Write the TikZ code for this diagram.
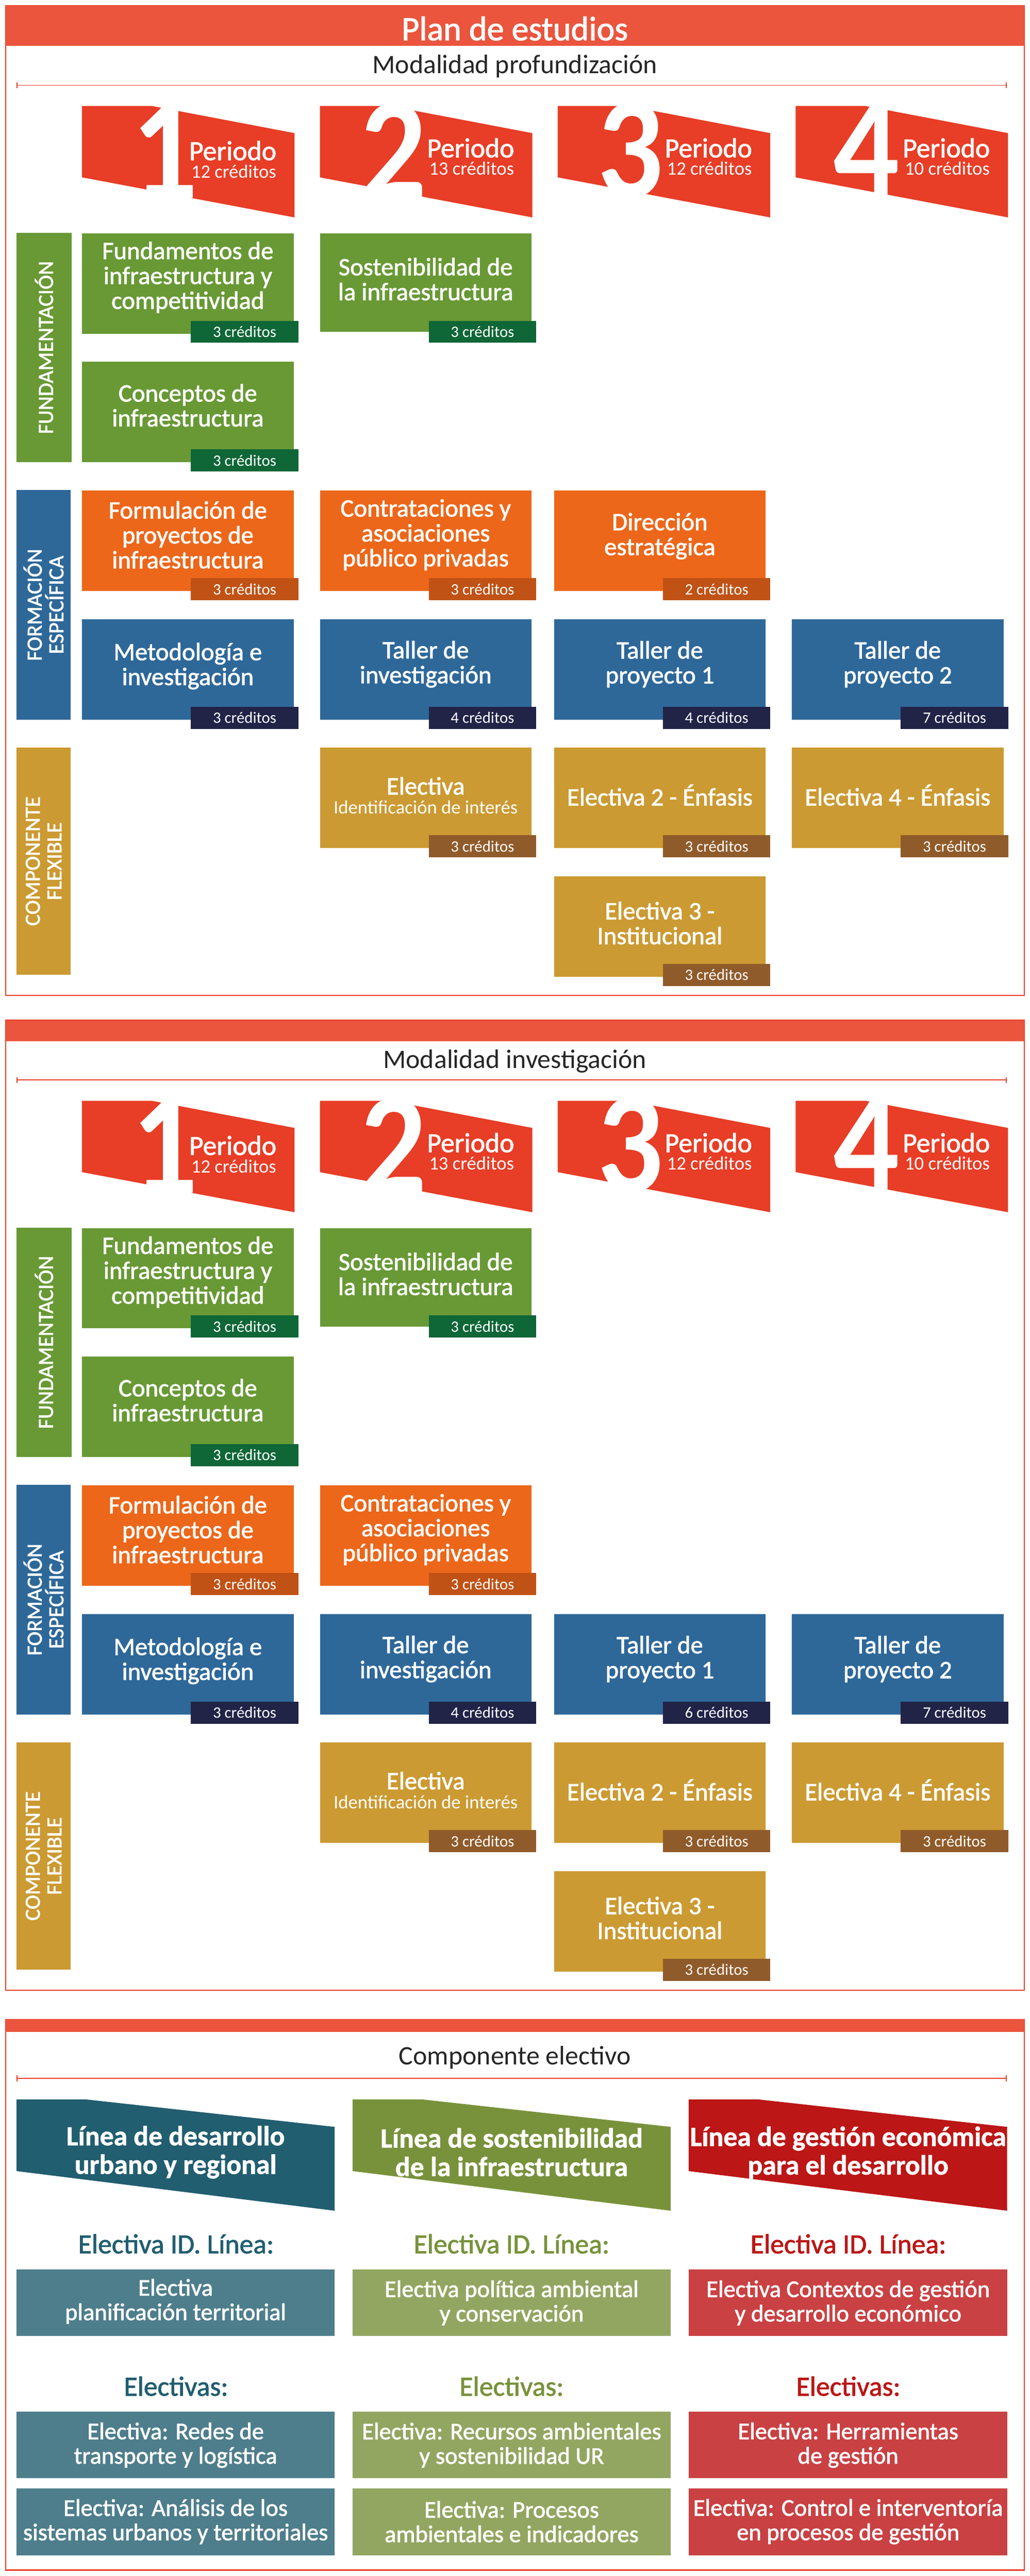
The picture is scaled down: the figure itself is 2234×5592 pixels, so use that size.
\documentclass[tikz,border=0pt]{standalone}
\usepackage{fontspec}
\setmainfont{Carlito}
\newfontfamily\medio[FakeBold=1.6]{Carlito}
\newfontfamily\negra[FakeBold=1.2]{Carlito Bold}
\newfontfamily\cifra[FakeStretch=0.9]{Carlito Bold}
\usetikzlibrary{arrows.meta}

\definecolor{rojo}{HTML}{E83D26}
\definecolor{franja}{HTML}{EB553D}
\definecolor{verde}{HTML}{689935}
\definecolor{verdeo}{HTML}{0F6637}
\definecolor{naranja}{HTML}{EC671A}
\definecolor{naranjao}{HTML}{C05215}
\definecolor{azul}{HTML}{2E6899}
\definecolor{azulo}{HTML}{212347}
\definecolor{oro}{HTML}{CB9A32}
\definecolor{oroo}{HTML}{905B2A}
\definecolor{teal}{HTML}{215E70}
\definecolor{tealc}{HTML}{4E7E8C}
\definecolor{oliva}{HTML}{78923B}
\definecolor{olivac}{HTML}{93A661}
\definecolor{vino}{HTML}{BC1616}
\definecolor{vinoc}{HTML}{C94143}

\tikzset{
  marco/.style={draw=rojo,line width=2.5pt,inner sep=0pt,minimum width=2210pt},
  cinta/.style={fill=franja,inner sep=0pt,minimum width=2210pt},
  subtitulo/.style={text=black!85,font=\fontsize{58}{62}\selectfont},
  regla/.style={draw=rojo,line width=2pt,{Bar[width=13pt,length=2pt]}-{Bar[width=13pt,length=2pt]}},
  bandera/.style={fill=rojo},
  digito/.style={text=white,anchor=base,inner ysep=0pt,inner xsep=-16pt,font=\cifra\fontsize{315}{315}\selectfont},
  periodo/.style={text=white,inner sep=0pt,font=\medio\fontsize{60}{60}\selectfont},
  creditos/.style={text=white,inner sep=0pt,font=\fontsize{41}{41}\selectfont},
  banda/.style={rotate=90,text=white,inner sep=0pt,align=center,font=\medio\fontsize{47}{47}\selectfont},
  ramo/.style={anchor=north west,inner sep=0pt,minimum width=459pt,minimum height=218pt},
  rtexto/.style={text=white,inner sep=0pt,align=center,font=\medio\fontsize{54.5}{54}\selectfont},
  sello/.style={anchor=north west,inner sep=0pt,minimum width=233pt,minimum height=48pt,text=white,font=\fontsize{34.5}{36}\selectfont},
  linea/.style={text=white,inner sep=0pt,align=center,font=\negra\fontsize{60}{62}\selectfont},
  subl/.style={inner sep=0pt,font=\medio\fontsize{60}{60}\selectfont},
  caja/.style={anchor=north west,inner sep=0pt,minimum height=144.5pt},
  ctexto/.style={text=white,inner sep=0pt,align=center,font=\medio\fontsize{52}{53}\selectfont}
}

\begin{document}
\begin{tikzpicture}[x=1pt,y=-1pt]

  \useasboundingbox (0,0) rectangle (2234,5592);

  % primer panel
  \node[marco,minimum height=2148.5pt] (marco1) at (1117,1086.25) {};
  \node[cinta,minimum height=88pt] (cinta1) at (1117,56) {};
  \node[inner sep=0pt,text=white,font=\medio\fontsize{74}{74}\selectfont] (plan) at (1117,62) {Plan de estudios};
  \node[subtitulo] (sub1) at (1117,144) {Modalidad profundización};
  \coordinate (r1a) at (36,185);
  \coordinate (r1b) at (2184,185);
  \draw[regla] (r1a) -- (r1b);

  \fill[bandera] (178,230) -- (329,230) -- (639,289) -- (639,472) -- (178,385) -- cycle;
  \fill[bandera] (694,230) -- (845,230) -- (1155,289) -- (1155,472) -- (694,385) -- cycle;
  \fill[bandera] (1210,230) -- (1361,230) -- (1671,289) -- (1671,472) -- (1210,385) -- cycle;
  \fill[bandera] (1726,230) -- (1877,230) -- (2187,289) -- (2187,472) -- (1726,385) -- cycle;
  \node[digito] (n1) at (358,430) {1};
  \node[digito] (n2) at (854,430) {2};
  \node[digito] (n3) at (1368,428) {3};
  \node[digito] (n4) at (1880,426) {4};
  \node[periodo] (p1) at (505,327) {Periodo};
  \node[periodo] (p2) at (1021,321) {Periodo};
  \node[periodo] (p3) at (1537,321) {Periodo};
  \node[periodo] (p4) at (2053,321) {Periodo};
  \node[creditos] (c1) at (507,372) {12 créditos};
  \node[creditos] (c2) at (1023,366) {13 créditos};
  \node[creditos] (c3) at (1539,366) {12 créditos};
  \node[creditos] (c4) at (2055,366) {10 créditos};

  \node[banda,fill=verde,minimum width=497pt,minimum height=119pt] (fund) at (95.5,754.5) {FUNDAMENTACIÓN};
  \node[banda,fill=azul,minimum width=498pt,minimum height=117pt] (form) at (94.5,1313) {FORMACIÓN\\ESPECÍFICA};
  \node[banda,fill=oro,minimum width=493pt,minimum height=117pt] (comp) at (94.5,1869.5) {COMPONENTE\\FLEXIBLE};

  \begin{scope}[every node/.append style={ramo}]
    \node[fill=verde] (a1) at (178,506) {};
    \node[fill=verde,minimum height=214pt] (b1) at (694,506) {};
    \node[fill=verde] (a2) at (178,785) {};
    \node[fill=naranja] (a3) at (178,1064.5) {};
    \node[fill=naranja] (b3) at (694,1064.5) {};
    \node[fill=naranja] (c3r) at (1202,1064.5) {};
    \node[fill=azul] (a4) at (178,1344) {};
    \node[fill=azul] (b4) at (694,1344) {};
    \node[fill=azul] (c4r) at (1202,1344) {};
    \node[fill=azul] (d4) at (1718,1344) {};
    \node[fill=oro] (b5) at (694,1623) {};
    \node[fill=oro] (c5) at (1202,1623) {};
    \node[fill=oro] (d5) at (1718,1623) {};
    \node[fill=oro] (c6) at (1202,1902) {};
  \end{scope}

  \begin{scope}[every node/.append style={rtexto}]
    \node (a1t) at (407.5,602) {Fundamentos de\\infraestructura y\\competitividad};
    \node (b1t) at (923.5,606) {Sostenibilidad de\\la infraestructura};
    \node (a2t) at (407.5,880) {Conceptos de\\infraestructura};
    \node (a3t) at (407.5,1161) {Formulación de\\proyectos de\\infraestructura};
    \node (b3t) at (923.5,1161) {Contrataciones y\\asociaciones\\público privadas};
    \node (c3t) at (1431.5,1164) {Dirección\\estratégica};
    \node (a4t) at (407.5,1446) {Metodología e\\investigación};
    \node (b4t) at (923.5,1442) {Taller de\\investigación};
    \node (c4t) at (1431.5,1442) {Taller de\\proyecto 1};
    \node (d4t) at (1947.5,1442) {Taller de\\proyecto 2};
    \node (b5t) at (923.5,1706) {Electiva};
    \node (c5t) at (1431.5,1726) {Electiva 2 - Énfasis};
    \node (d5t) at (1947.5,1726) {Electiva 4 - Énfasis};
    \node (c6t) at (1431.5,2004) {Electiva 3 -\\Institucional};
  \end{scope}
  \node[inner sep=0pt,text=white,font=\fontsize{41}{41}\selectfont] (b5i) at (923.5,1752) {Identificación de interés};

  \begin{scope}[every node/.append style={sello}]
    \node[fill=verdeo] (a1c) at (414,696) {3 créditos};
    \node[fill=verdeo] (b1c) at (930,696) {3 créditos};
    \node[fill=verdeo] (a2c) at (414,975) {3 créditos};
    \node[fill=naranjao] (a3c) at (414,1255) {3 créditos};
    \node[fill=naranjao] (b3c) at (930,1255) {3 créditos};
    \node[fill=naranjao] (c3c) at (1438,1255) {2 créditos};
    \node[fill=azulo] (a4c) at (414,1534) {3 créditos};
    \node[fill=azulo] (b4c) at (930,1534) {4 créditos};
    \node[fill=azulo] (c4c) at (1438,1534) {4 créditos};
    \node[fill=azulo] (d4c) at (1954,1534) {7 créditos};
    \node[fill=oroo] (b5c) at (930,1813) {3 créditos};
    \node[fill=oroo] (c5c) at (1438,1813) {3 créditos};
    \node[fill=oroo] (d5c) at (1954,1813) {3 créditos};
    \node[fill=oroo] (c6c) at (1438,2092) {3 créditos};
  \end{scope}

  % segundo panel
  \node[marco,minimum height=2105.5pt] (marco2) at (1117,3267.75) {};
  \node[cinta,minimum height=45pt] (cinta2) at (1117,2237.5) {};
  \begin{scope}[shift={(0,2159.5)}]
    \node[subtitulo] (sub2) at (1117,144) {Modalidad investigación};
    \coordinate (r2a) at (36,185);
    \coordinate (r2b) at (2184,185);
    \draw[regla] (r2a) -- (r2b);

    \fill[bandera] (178,230) -- (329,230) -- (639,289) -- (639,472) -- (178,385) -- cycle;
    \fill[bandera] (694,230) -- (845,230) -- (1155,289) -- (1155,472) -- (694,385) -- cycle;
    \fill[bandera] (1210,230) -- (1361,230) -- (1671,289) -- (1671,472) -- (1210,385) -- cycle;
    \fill[bandera] (1726,230) -- (1877,230) -- (2187,289) -- (2187,472) -- (1726,385) -- cycle;
    \node[digito] (m1) at (358,430) {1};
    \node[digito] (m2) at (854,430) {2};
    \node[digito] (m3) at (1368,428) {3};
    \node[digito] (m4) at (1880,426) {4};
    \node[periodo] (q1) at (505,327) {Periodo};
    \node[periodo] (q2) at (1021,321) {Periodo};
    \node[periodo] (q3) at (1537,321) {Periodo};
    \node[periodo] (q4) at (2053,321) {Periodo};
    \node[creditos] (k1) at (507,372) {12 créditos};
    \node[creditos] (k2) at (1023,366) {13 créditos};
    \node[creditos] (k3) at (1539,366) {12 créditos};
    \node[creditos] (k4) at (2055,366) {10 créditos};

    \node[banda,fill=verde,minimum width=497pt,minimum height=119pt] (fund2) at (95.5,754.5) {FUNDAMENTACIÓN};
    \node[banda,fill=azul,minimum width=498pt,minimum height=117pt] (form2) at (94.5,1313) {FORMACIÓN\\ESPECÍFICA};
    \node[banda,fill=oro,minimum width=493pt,minimum height=117pt] (comp2) at (94.5,1869.5) {COMPONENTE\\FLEXIBLE};

    \begin{scope}[every node/.append style={ramo}]
      \node[fill=verde] (e1) at (178,506) {};
      \node[fill=verde,minimum height=214pt] (f1) at (694,506) {};
      \node[fill=verde] (e2) at (178,785) {};
      \node[fill=naranja] (e3) at (178,1064.5) {};
      \node[fill=naranja] (f3) at (694,1064.5) {};
      \node[fill=azul] (e4) at (178,1344) {};
      \node[fill=azul] (f4) at (694,1344) {};
      \node[fill=azul] (g4) at (1202,1344) {};
      \node[fill=azul] (h4) at (1718,1344) {};
      \node[fill=oro] (f5) at (694,1623) {};
      \node[fill=oro] (g5) at (1202,1623) {};
      \node[fill=oro] (h5) at (1718,1623) {};
      \node[fill=oro] (g6) at (1202,1902) {};
    \end{scope}

    \begin{scope}[every node/.append style={rtexto}]
      \node (e1t) at (407.5,602) {Fundamentos de\\infraestructura y\\competitividad};
      \node (f1t) at (923.5,606) {Sostenibilidad de\\la infraestructura};
      \node (e2t) at (407.5,880) {Conceptos de\\infraestructura};
      \node (e3t) at (407.5,1161) {Formulación de\\proyectos de\\infraestructura};
      \node (f3t) at (923.5,1161) {Contrataciones y\\asociaciones\\público privadas};
      \node (e4t) at (407.5,1446) {Metodología e\\investigación};
      \node (f4t) at (923.5,1442) {Taller de\\investigación};
      \node (g4t) at (1431.5,1442) {Taller de\\proyecto 1};
      \node (h4t) at (1947.5,1442) {Taller de\\proyecto 2};
      \node (f5t) at (923.5,1706) {Electiva};
      \node (g5t) at (1431.5,1726) {Electiva 2 - Énfasis};
      \node (h5t) at (1947.5,1726) {Electiva 4 - Énfasis};
      \node (g6t) at (1431.5,2004) {Electiva 3 -\\Institucional};
    \end{scope}
    \node[inner sep=0pt,text=white,font=\fontsize{41}{41}\selectfont] (f5i) at (923.5,1752) {Identificación de interés};

    \begin{scope}[every node/.append style={sello}]
      \node[fill=verdeo] (e1c) at (414,696) {3 créditos};
      \node[fill=verdeo] (f1c) at (930,696) {3 créditos};
      \node[fill=verdeo] (e2c) at (414,975) {3 créditos};
      \node[fill=naranjao] (e3c) at (414,1255) {3 créditos};
      \node[fill=naranjao] (f3c) at (930,1255) {3 créditos};
      \node[fill=azulo] (e4c) at (414,1534) {3 créditos};
      \node[fill=azulo] (f4c) at (930,1534) {4 créditos};
      \node[fill=azulo] (g4c) at (1438,1534) {6 créditos};
      \node[fill=azulo] (h4c) at (1954,1534) {7 créditos};
      \node[fill=oroo] (f5c) at (930,1813) {3 créditos};
      \node[fill=oroo] (g5c) at (1438,1813) {3 créditos};
      \node[fill=oroo] (h5c) at (1954,1813) {3 créditos};
      \node[fill=oroo] (g6c) at (1438,2092) {3 créditos};
    \end{scope}
  \end{scope}

  % tercer panel
  \node[marco,minimum height=1195pt] (marco3) at (1117,4981.5) {};
  \node[cinta,minimum height=27pt] (cinta3) at (1117,4397.5) {};
  \node[subtitulo] (sub3) at (1117,4467) {Componente electivo};
  \coordinate (r3a) at (36,4511.5);
  \coordinate (r3b) at (2184,4511.5);
  \draw[regla] (r3a) -- (r3b);

  \fill[teal] (36,4557.5) -- (187.5,4557.5) -- (726,4617) -- (726,4799) -- (36,4713) -- cycle;
  \fill[oliva] (765,4557.5) -- (917,4557.5) -- (1455,4617) -- (1455,4799) -- (765,4713) -- cycle;
  \fill[vino] (1494,4557.5) -- (1646,4557.5) -- (2185,4617) -- (2185,4799) -- (1494,4713) -- cycle;
  \node[linea] (la) at (381,4672) {Línea de desarrollo\\urbano y regional};
  \node[linea] (lb) at (1110,4672) {Línea de sostenibilidad\\de la infraestructura};
  \node[linea] (lc) at (1840,4673) {Línea de gestión económica\\para el desarrollo};

  \node[subl,text=teal] (ia) at (382,4871) {Electiva ID. Línea:};
  \node[subl,text=oliva] (ib) at (1110,4871) {Electiva ID. Línea:};
  \node[subl,text=vino] (ic) at (1840.5,4871) {Electiva ID. Línea:};
  \node[subl,text=teal] (ea) at (382,5180) {Electivas:};
  \node[subl,text=oliva] (eb) at (1110,5180) {Electivas:};
  \node[subl,text=vino] (ec) at (1840.5,5180) {Electivas:};

  \begin{scope}[every node/.append style={caja}]
    \node[fill=tealc,minimum width=690pt] (x1) at (36,4926.5) {};
    \node[fill=olivac,minimum width=690pt] (y1) at (765,4926.5) {};
    \node[fill=vinoc,minimum width=691pt] (z1) at (1494,4926.5) {};
    \node[fill=tealc,minimum width=690pt] (x2) at (36,5235) {};
    \node[fill=olivac,minimum width=690pt] (y2) at (765,5235) {};
    \node[fill=vinoc,minimum width=691pt] (z2) at (1494,5235) {};
    \node[fill=tealc,minimum width=690pt] (x3) at (36,5402) {};
    \node[fill=olivac,minimum width=690pt] (y3) at (765,5402) {};
    \node[fill=vinoc,minimum width=691pt] (z3) at (1494,5402) {};
  \end{scope}

  \begin{scope}[every node/.append style={ctexto}]
    \node (x1t) at (381,4996) {Electiva\\planificación territorial};
    \node (y1t) at (1110,4999) {Electiva política ambiental\\y conservación};
    \node (z1t) at (1840,4999) {Electiva Contextos de gestión\\y desarrollo económico};
    \node (x2t) at (381,5308) {Electiva: Redes de\\transporte y logística};
    \node (y2t) at (1110,5308) {Electiva: Recursos ambientales\\y sostenibilidad UR};
    \node (z2t) at (1840,5308) {Electiva: Herramientas\\de gestión};
    \node (x3t) at (381,5474) {Electiva: Análisis de los\\sistemas urbanos y territoriales};
    \node (y3t) at (1110,5474) {Electiva: Procesos\\ambientales e indicadores};
    \node (z3t) at (1840,5474) {Electiva: Control e interventoría\\en procesos de gestión};
  \end{scope}

\end{tikzpicture}
\end{document}
